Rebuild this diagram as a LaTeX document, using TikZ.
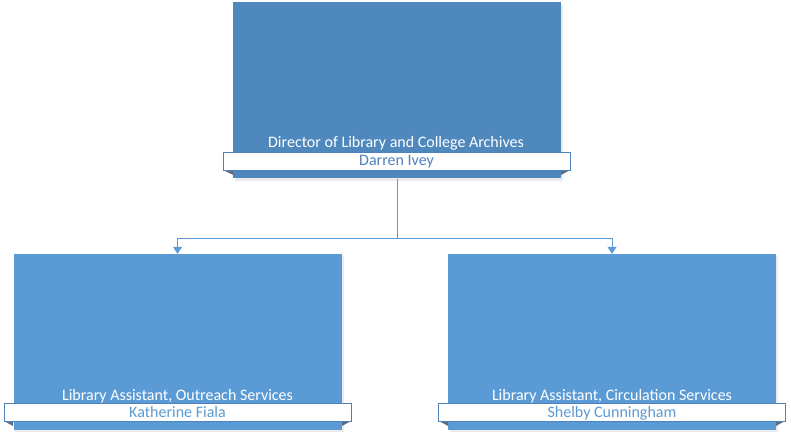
\documentclass[tikz,border=0pt]{standalone}
\usepackage{fontspec}
\setmainfont{Carlito}
\usepackage{tikz}
\usetikzlibrary{arrows.meta,positioning,calc}
\definecolor{topblue}{RGB}{79,136,188}
\definecolor{lowblue}{RGB}{91,155,213}
\definecolor{bandline}{RGB}{79,129,189}
\definecolor{foldgray}{RGB}{95,110,130}

\begin{document}
\begin{tikzpicture}[
      x=1pt, y=-1pt,
      >={Triangle[length=7pt,width=9pt]},
      box/.style={rectangle, inner sep=0pt, minimum width=328pt,
                  minimum height=176pt},
      title/.style={text=white, font=\fontsize{16}{18}\selectfont, inner sep=0pt,
                    text height=12pt, text depth=2pt},
      band/.style={draw=bandline, line width=0.6pt, fill=white, inner sep=0pt,
                   minimum width=347pt, minimum height=18pt,
                   text height=12pt, text depth=2pt,
                   font=\fontsize{16}{18}\selectfont},
      fold/.style={fill=foldgray},
      link/.style={draw=lowblue, line width=1pt}
  ]
      \useasboundingbox (0,0) rectangle (791,438);

      % Boxen
      \fill[black!8] (235,4) rectangle (563,181);
      \fill[black!8] (15,256) rectangle (344,432);
      \fill[black!8] (450,256) rectangle (778,432);
      \node[box, fill=topblue] (director) at (397,90.5) {};
      \node[box, fill=lowblue] (outreach) at (177.5,342) {};
      \node[box, fill=lowblue] (circulation) at (612,342) {};

      % Titel
      \node[title] (directortitle) at (396,143) {Director of Library and College Archives};
      \node[title] (outreachtitle) at (177.5,395) {Library Assistant, Outreach Services};
      \node[title] (circulationtitle) at (612,395) {Library Assistant, Circulation Services};

      % Namen
      \fill[fold] (223,170) -- (233,170) -- (233,175) -- cycle;
      \fill[fold] (570,170) -- (561,170) -- (561,175) -- cycle;
      \node[band, text=bandline] (directorname) at (396.5,161) {Darren Ivey};
      \fill[fold] (4,421) -- (13,421) -- (13,426) -- cycle;
      \fill[fold] (351,421) -- (342,421) -- (342,426) -- cycle;
      \node[band, text=lowblue] (outreachname) at (177.5,412) {Katherine Fiala};
      \fill[fold] (439,421) -- (448,421) -- (448,426) -- cycle;
      \fill[fold] (785,421) -- (776,421) -- (776,426) -- cycle;
      \node[band, text=lowblue] (circulationname) at (612,412) {Shelby Cunningham};

      % Verbindungen
      \coordinate (branch) at (397,238);
      \draw[link] (director.south) -- (branch);
      \draw[link,->] (branch) -| (outreach.north);
      \draw[link,->] (branch) -| (circulation.north);
  \end{tikzpicture}
\end{document}
